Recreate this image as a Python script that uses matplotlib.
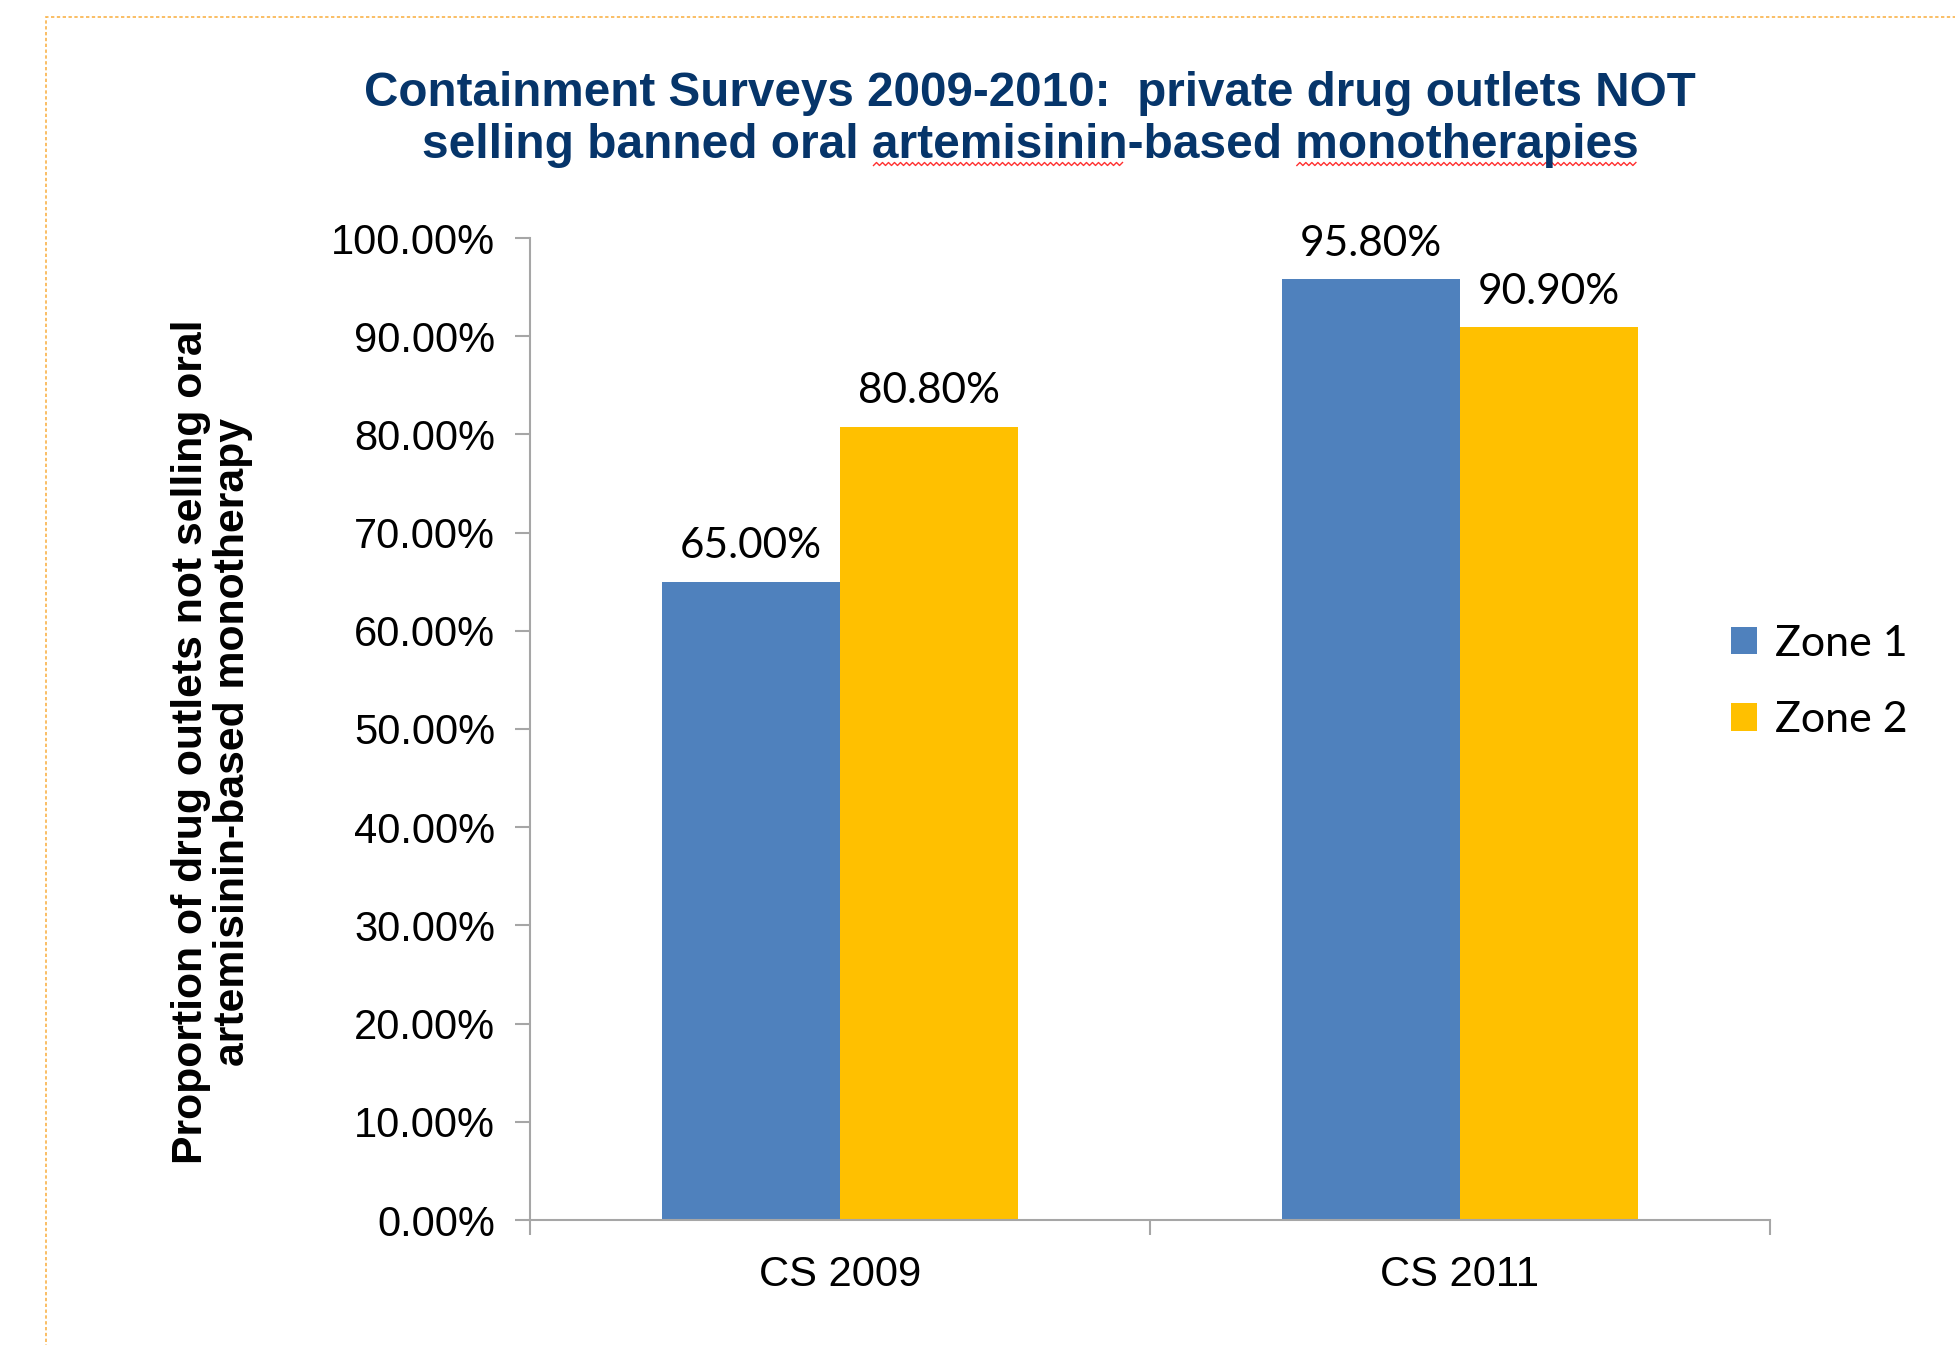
import numpy as np
import matplotlib
matplotlib.use("Agg")
import matplotlib.pyplot as plt
from matplotlib.patches import Rectangle

# data
categories = ["CS 2009", "CS 2011"]
series_names = ["Zone 1", "Zone 2"]
zone1 = [65.0, 95.8]
zone2 = [80.8, 90.9]
yticks = [0, 10, 20, 30, 40, 50, 60, 70, 80, 90, 100]

title1 = "Containment Surveys 2009-2010:  private drug outlets NOT"
title2 = "selling banned oral artemisinin-based monotherapies"
ylabel = "Proportion of drug outlets not selling oral\nartemisinin-based monotherapy"

blue = "#4F81BD"
gold = "#FFC000"
navy = "#06356A"
grey = "#A6A6A6"
arial = "Liberation Sans"
calibri = "Lato"
tsize = 34.5

W, H = 1955, 1345
fig = plt.figure(figsize=(W / 100, H / 100), dpi=100)
ax = fig.add_axes([530 / W, 1 - 1220 / H, 1240 / W, 982 / H])

x = np.arange(len(categories))
w = 0.287
b1 = ax.bar(x - w / 2, zone1, w, color=blue, label=series_names[0])
b2 = ax.bar(x + w / 2, zone2, w, color=gold, label=series_names[1])
ax.set_xlim(-0.5, len(categories) - 0.5)
ax.set_ylim(0, 100)

for bars, vals in ((b1, zone1), (b2, zone2)):
    ax.bar_label(bars, labels=["%.2f%%" % v for v in vals], padding=12,
                 fontsize=30.5, family=calibri, color="black")

ax.set_yticks(yticks)
ax.set_yticklabels(["%.2f%%" % v for v in yticks], fontsize=30, family=arial)
ax.set_xticks(np.arange(len(categories) + 1) - 0.5)
ax.set_xticklabels([])
ax.set_xticks(x, minor=True)
ax.set_xticklabels(categories, minor=True, fontsize=30, family=arial)
ax.tick_params(axis="x", which="major", length=11, width=1.5, color=grey, direction="out")
ax.tick_params(axis="x", which="minor", length=0, pad=25)
ax.tick_params(axis="y", length=11, width=1.5, color=grey, pad=14)

for s in ("top", "right"):
    ax.spines[s].set_visible(False)
for s in ("left", "bottom"):
    ax.spines[s].set_color(grey)
    ax.spines[s].set_linewidth(1.5)

fig.legend(handles=[b1, b2], loc="center left", bbox_to_anchor=(1692 / W, 1 - 682 / H),
           frameon=False, prop={"family": calibri, "size": 31},
           handlelength=0.62, handleheight=0.62, handletextpad=0.4, labelspacing=0.9)

fig.text(212 / W, 1 - 742 / H, ylabel, rotation=90, ha="center", va="center",
         multialignment="center", fontsize=30.8, fontweight="bold", family=arial,
         linespacing=1.05)

# title, second line with spell-check squiggles
cx = 1030 / W
fig.text(cx, 1 - 93 / H, title1, ha="center", va="center", fontsize=tsize - 0.2,
         fontweight="bold", family=arial, color=navy)
t2 = fig.text(cx, 1 - 158 / H, title2, ha="center", va="baseline", fontsize=tsize,
              fontweight="bold", family=arial, color=navy)

fig.canvas.draw()
r = fig.canvas.get_renderer()


def width(s):
    t = fig.text(0, 0, s, fontsize=tsize, fontweight="bold", family=arial)
    wd = t.get_window_extent(r).width
    t.remove()
    return wd


bb = t2.get_window_extent(r)
base_y = (1 - 158 / H) * H
for word in ("artemisinin", "monotherapies"):
    i = title2.index(word)
    x1 = bb.x0 + width(title2[:i] + word) - 2
    x0 = x1 - width(word) + 4
    xs = np.arange(x0, x1, 3.0)
    ys = base_y - 6 + np.where(np.arange(len(xs)) % 2 == 0, -1.5, 1.5)
    fig.lines.append(plt.Line2D(xs / W, ys / H, color="#FF3030", lw=1.0,
                                transform=fig.transFigure, figure=fig))

# dotted slide frame
fig.patches.append(Rectangle((46 / W, -0.05), 1.2, 1 - 17 / H + 0.05, fill=False,
                             edgecolor="#F9B34A", lw=1.2, ls=(0, (2, 1.5)),
                             transform=fig.transFigure, figure=fig))

fig.savefig("out.png", dpi=100)
